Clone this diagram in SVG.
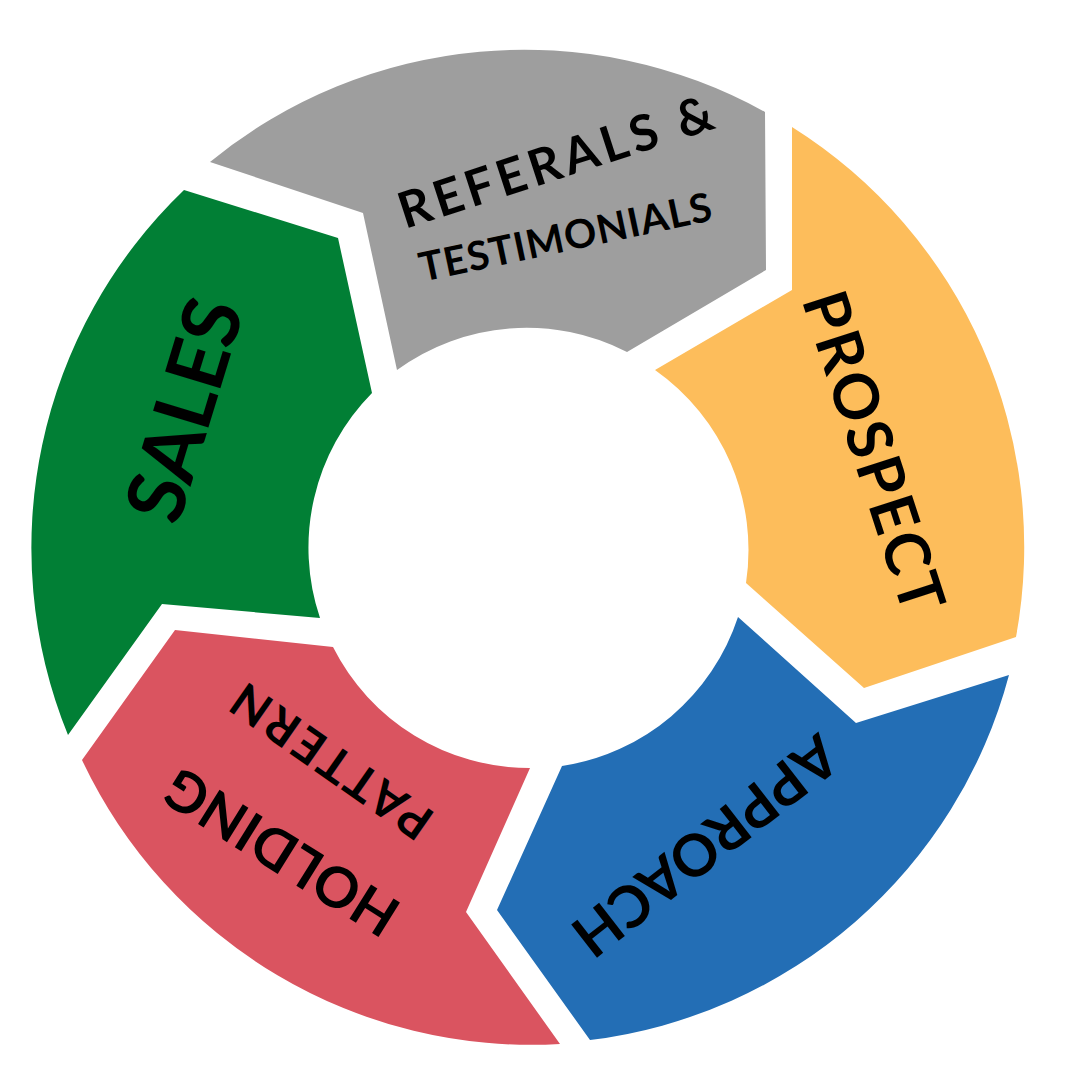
<svg xmlns="http://www.w3.org/2000/svg" width="1080" height="1080" viewBox="0 0 1080 1080">
<style>
.t{font-family:Lato,"Open Sans",sans-serif;font-weight:bold;fill:#000;text-anchor:middle;dominant-baseline:central;letter-spacing:2px}
</style>
<rect width="1080" height="1080" fill="#fff"/>
<g id="referrals">
<path d="M210,162 A496,496 0 0 1 765,112 L766,270 L627,352 A220,220 0 0 0 397,370 L363,213 Z" fill="#9e9e9e"/>
<text class="t" font-size="50" textLength="330" lengthAdjust="spacing" transform="translate(556,160) rotate(-18)">REFERALS &amp;</text>
<text class="t" font-size="40" textLength="300" lengthAdjust="spacing" transform="translate(566,236) rotate(-12)">TESTIMONIALS</text>
</g>
<g id="prospect">
<path d="M792,127 A496,496 0 0 1 1016,637 L864,688 L746,583 A220,220 0 0 0 655,370 L792,290 Z" fill="#fdbd5b"/>
<text class="t" font-size="62" textLength="335" lengthAdjust="spacing" transform="translate(876,452) rotate(72)">PROSPECT</text>
</g>
<g id="approach">
<path d="M1009,675 A496,496 0 0 1 590,1040 L497,910 L562,766 A220,220 0 0 0 738,617 L856,723 Z" fill="#236eb5"/>
<text class="t" font-size="58" textLength="320" lengthAdjust="spacing" transform="translate(706,848) rotate(142)">APPROACH</text>
</g>
<g id="holding">
<path d="M560,1044 A496,496 0 0 1 82,760 L175,630 L333,647 A220,220 0 0 0 530,768 L466,912 Z" fill="#da5460"/>
<text class="t" font-size="56" textLength="265" lengthAdjust="spacing" transform="translate(280,853) rotate(-148)">HOLDING</text>
<text class="t" font-size="48" textLength="235" lengthAdjust="spacing" transform="translate(330,762) rotate(-145)">PATTERN</text>
</g>
<g id="sales">
<path d="M68,735 A496,496 0 0 1 184,190 L338,238 L372,393 A220,220 0 0 0 320,618 L162,604 Z" fill="#017f35"/>
<text class="t" font-size="80" textLength="230" lengthAdjust="spacing" transform="translate(182,408) rotate(-73)">SALES</text>
</g>
<g id="connectors"/>
</svg>
